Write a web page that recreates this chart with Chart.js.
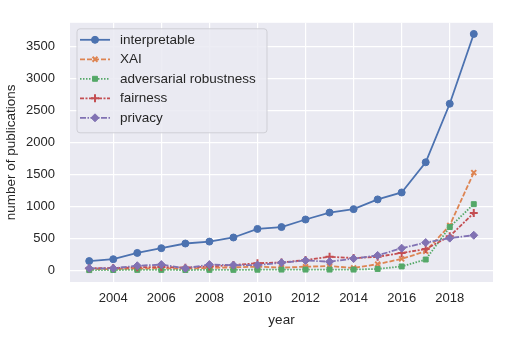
<!DOCTYPE html>
<html>
<head>
<meta charset="utf-8">
<script src="https://cdn.jsdelivr.net/npm/chart.js@4.4.0/dist/chart.umd.min.js"></script>
<style>
  html, body { margin: 0; padding: 0; background: #fff; }
</style>
</head>
<body>
<canvas id="pubChart" width="518" height="350"></canvas>
<script>
// data
const YEARS = [2003, 2004, 2005, 2006, 2007, 2008, 2009, 2010, 2011, 2012, 2013, 2014, 2015, 2016, 2017, 2018, 2019];
const INTERPRETABLE = [143, 172, 270, 344, 417, 447, 511, 645, 674, 792, 900, 954, 1106, 1214, 1686, 2600, 3690];
const XAI = [15, 20, 25, 30, 25, 35, 45, 55, 40, 55, 65, 35, 95, 177, 295, 700, 1524];
const ADVERSARIAL = [2, 3, 5, 5, 3, 5, 5, 8, 10, 10, 10, 10, 20, 59, 167, 674, 1032];
const FAIRNESS = [30, 35, 45, 50, 40, 60, 80, 110, 120, 160, 210, 190, 210, 270, 330, 530, 893];
const PRIVACY = [30, 30, 70, 88, 30, 88, 80, 80, 118, 152, 133, 182, 231, 344, 432, 501, 546];
const SERIES_NAMES = ['interpretable', 'XAI', 'adversarial robustness', 'fairness', 'privacy'];
const X_TICKS = [2004, 2006, 2008, 2010, 2012, 2014, 2016, 2018];
const Y_TICKS = [0, 500, 1000, 1500, 2000, 2500, 3000, 3500];

const FONT = '"Liberation Sans", Arial, sans-serif';
const TEXT = '#262626';

function pts(vals) {
    return YEARS.map((y, i) => ({ x: y, y: vals[i] }));
}

const styles = [
    { color: '#4C72B0', dash: [], point: 'circle', r: 3.5, bw: 1 },
    { color: '#DD8452', dash: [5, 2], point: 'crossRot', r: 3.5, bw: 2 },
    { color: '#55A868', dash: [1.5, 1.5], point: 'rect', r: 3.5, bw: 1 },
    { color: '#C44E52', dash: [4, 1.5, 2, 1.5], point: 'cross', r: 4, bw: 2 },
    { color: '#8172B3', dash: [6, 1.5, 1.5, 1.5], point: 'rectRot', r: 4, bw: 1 }
];
const allValues = [INTERPRETABLE, XAI, ADVERSARIAL, FAIRNESS, PRIVACY];

const datasets = allValues.map((vals, i) => ({
    label: SERIES_NAMES[i],
    data: pts(vals),
    borderColor: styles[i].color,
    backgroundColor: styles[i].color,
    borderWidth: 1.8,
    borderDash: styles[i].dash,
    pointStyle: styles[i].point,
    pointRadius: styles[i].r,
    pointBorderWidth: styles[i].bw,
    pointBorderColor: styles[i].color,
    pointBackgroundColor: styles[i].color,
    tension: 0,
    order: allValues.length - i
}));

// grey plot background like seaborn darkgrid
const plotBg = {
    id: 'plotBg',
    beforeDraw(chart) {
        const a = chart.chartArea, ctx = chart.ctx;
        ctx.save();
        ctx.fillStyle = '#EAEAF2';
        ctx.fillRect(a.left, a.top, a.right - a.left, a.bottom - a.top);
        ctx.restore();
    }
};

// legend box inside the plot, upper left
const boxLegend = {
    id: 'boxLegend',
    afterDatasetsDraw(chart) {
        const a = chart.chartArea, ctx = chart.ctx;
        const x = a.left + 7, y = a.top + 6, w = 190, h = 104;
        ctx.save();
        ctx.beginPath();
        ctx.roundRect(x, y, w, h, 3);
        ctx.fillStyle = 'rgba(234,234,242,0.85)';
        ctx.fill();
        ctx.strokeStyle = '#cfcfd6';
        ctx.lineWidth = 1;
        ctx.stroke();
        chart.data.datasets.forEach((ds, i) => {
            const ry = y + 11 + i * 19.5;
            ctx.strokeStyle = ds.borderColor;
            ctx.lineWidth = ds.borderWidth;
            ctx.setLineDash(ds.borderDash);
            ctx.beginPath();
            ctx.moveTo(x + 3, ry);
            ctx.lineTo(x + 33, ry);
            ctx.stroke();
            ctx.setLineDash([]);
            ctx.fillStyle = ds.pointBackgroundColor;
            ctx.lineWidth = ds.pointBorderWidth;
            Chart.helpers.drawPoint(ctx, {
                pointStyle: ds.pointStyle,
                radius: ds.pointRadius,
                borderWidth: ds.pointBorderWidth,
                rotation: 0
            }, x + 18, ry);
            ctx.fillStyle = TEXT;
            ctx.font = '13.5px ' + FONT;
            ctx.textBaseline = 'middle';
            ctx.textAlign = 'left';
            ctx.fillText(ds.label, x + 43, ry);
        });
        ctx.restore();
    }
};

const ctx = document.getElementById('pubChart').getContext('2d');
const pubChart = new Chart(ctx, {
    type: 'line',
    data: { datasets: datasets },
    options: {
        responsive: false,
        devicePixelRatio: 1,
        animation: false,
        layout: { padding: { left: 0, right: 25, top: 7, bottom: 18 } },
        plugins: {
            legend: { display: false },
            tooltip: { enabled: false }
        },
        scales: {
            x: {
                type: 'linear',
                min: 2002.2,
                max: 2019.8,
                afterBuildTicks: s => { s.ticks = X_TICKS.map(v => ({ value: v })); },
                afterFit: s => { s.height = 50; },
                border: { display: false },
                grid: { color: '#ffffff', lineWidth: 1.2, drawTicks: false },
                ticks: {
                    padding: 9,
                    color: TEXT,
                    font: { family: FONT, size: 13 },
                    callback: v => String(v),
                    maxRotation: 0
                },
                title: {
                    display: true,
                    text: 'year',
                    color: TEXT,
                    font: { family: FONT, size: 13.5 },
                    padding: { top: 0, bottom: 4 }
                }
            },
            y: {
                min: -184,
                max: 3864,
                afterBuildTicks: s => { s.ticks = Y_TICKS.map(v => ({ value: v })); },
                afterFit: s => { s.width = 70; },
                border: { display: false },
                grid: { color: '#ffffff', lineWidth: 1.2, drawTicks: false },
                ticks: {
                    padding: 15,
                    color: TEXT,
                    font: { family: FONT, size: 13 },
                    callback: v => String(v)
                },
                title: {
                    display: true,
                    text: 'number of publications',
                    color: TEXT,
                    font: { family: FONT, size: 13.5 },
                    padding: { top: 3, bottom: 0 }
                }
            }
        }
    },
    plugins: [plotBg, boxLegend]
});
</script>
</body>
</html>
